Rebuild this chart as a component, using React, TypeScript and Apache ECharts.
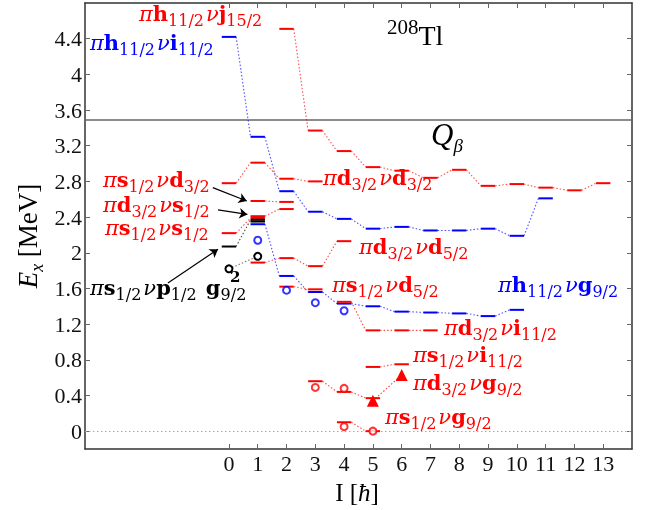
import React, { useEffect, useRef } from "react";
import * as echarts from "echarts";

const X_TICKS = [0, 1, 2, 3, 4, 5, 6, 7, 8, 9, 10, 11, 12, 13];
const Y_TICKS = [0, 0.4, 0.8, 1.2, 1.6, 2, 2.4, 2.8, 3.2, 3.6, 4, 4.4];
const Q_BETA = 3.49;

// calculated multiplets [I, E]
const hJ15 = [[2, 4.51], [3, 3.37], [4, 3.14], [5, 2.96], [6, 2.92], [7, 2.84], [8, 2.93], [9, 2.75], [10, 2.77], [11, 2.73], [12, 2.7], [13, 2.78]];
const hI11 = [[0, 4.42], [1, 3.3], [2, 2.69], [3, 2.46], [4, 2.38], [5, 2.27], [6, 2.29], [7, 2.25], [8, 2.25], [9, 2.27], [10, 2.19], [11, 2.61]];
const dD3 = [[0, 2.78], [1, 3.01], [2, 2.83], [3, 2.8]];
const sD3 = [[1, 2.58], [2, 2.57]];
const dS1 = [[1, 2.41], [2, 2.49]];
const sS1 = [[0, 2.22], [1, 2.39]];
const sP1 = [[0, 2.07], [1, 2.37]];
const sP1b = [[1, 2.35]];
const hG9 = [[1, 2.32], [2, 1.74], [3, 1.56], [4, 1.43], [5, 1.4], [6, 1.34], [7, 1.33], [8, 1.32], [9, 1.29], [10, 1.36]];
const dD5 = [[1, 1.89], [2, 1.94], [3, 1.85], [4, 2.13]];
const sD5 = [[2, 1.62], [3, 1.59]];
const dI11 = [[4, 1.45], [5, 1.13], [6, 1.13], [7, 1.13]];
const sI11 = [[5, 0.72], [6, 0.75]];
const dG9 = [[3, 0.56], [4, 0.44], [5, 0.37]];
const sG9 = [[4, 0.1], [5, 0.0]];

// experimental levels
const expRed = [[3, 0.49], [4, 0.48], [4, 0.05], [5, 0.0]];
const expBlue = [[1, 2.14], [2, 1.58], [3, 1.44], [4, 1.35]];
const expBlack = [[0, 1.82], [1, 1.96]];
const expTri = [[5, 0.34], [6, 0.63]];

// arrows [from, to]
const arrows = [
  [[-0.56, 2.73], [0.62, 2.58]],
  [[-0.38, 2.48], [0.64, 2.43]],
  [[-2.12, 1.66], [-0.38, 2.04]],
];

const RED = "#ff0000";
const BLUE = "#0000ff";
const BLACK = "#000000";
const HW = 0.25;
const LF = "'DejaVu Serif', 'Liberation Serif', serif";
const AF = "'Liberation Serif', 'DejaVu Serif', serif";

function band(data: number[][], color: string, barW = 2) {
  return {
    type: "custom",
    data,
    encode: { x: 0, y: 1 },
    z: 5,
    renderItem: (params: any, api: any) => {
      const i = params.dataIndex;
      const x = api.value(0);
      const y = api.value(1);
      const p1 = api.coord([x - HW, y]);
      const p2 = api.coord([x + HW, y]);
      const children: any[] = [];
      if (i < data.length - 1) {
        const n = data[i + 1];
        const q = api.coord([n[0] - HW, n[1]]);
        children.push({
          type: "line",
          shape: { x1: p2[0], y1: p2[1], x2: q[0], y2: q[1] },
          style: { stroke: color, lineWidth: 1.1, lineDash: [1.5, 2], opacity: 0.7 },
        });
      }
      children.push({
        type: "line",
        shape: { x1: p1[0], y1: p1[1], x2: p2[0], y2: p2[1] },
        style: { stroke: color, lineWidth: barW },
      });
      return { type: "group", children };
    },
  };
}

// rich text with real sub/superscripts (tokens top-aligned, shifted by padding)
function richFor(S: number, s: number, fam: string, bold: boolean, P: number, gap: number) {
  const base = P + S / 2 + 0.345 * S;
  const subPad = base + 0.22 * S - 0.345 * s - s / 2;
  const supPad = Math.max(0, base - 0.42 * S - 0.345 * s - s / 2);
  const w = bold ? "bold" : "normal";
  return {
    base,
    rich: {
      g: { fontFamily: fam, fontSize: S, fontStyle: "italic", verticalAlign: "top", padding: [P, 0, 0, 0] },
      m: { fontFamily: fam, fontSize: S, fontWeight: w, verticalAlign: "top", padding: [P, 0, 0, 0] },
      s: { fontFamily: fam, fontSize: s, verticalAlign: "top", padding: [subPad, gap, 0, 0] },
      gs: { fontFamily: fam, fontSize: s, fontStyle: "italic", verticalAlign: "top", padding: [subPad, 0, 0, 0] },
      u: { fontFamily: fam, fontSize: s, verticalAlign: "top", padding: [supPad, 0, 0, 0] },
    },
  };
}

function lbl(text: string, x: number, baseline: number, color: string, S = 21, s = 16, fam = LF, bold = true, P = 0, gap = 2) {
  const r = richFor(S, s, fam, bold, P, gap);
  return {
    type: "text",
    x,
    y: baseline - r.base,
    z: 100,
    style: {
      text,
      rich: r.rich,
      fill: color,
      align: "left",
      textAlign: "left",
      verticalAlign: "top",
      textVerticalAlign: "top",
      fontFamily: fam,
      fontSize: S,
    },
  };
}

function centered(text: string, x: number, y: number, S: number, s: number, rotation = 0) {
  const r = richFor(S, s, AF, false, 0, 0);
  return {
    type: "text",
    x,
    y,
    rotation,
    z: 100,
    style: {
      text,
      rich: r.rich,
      fill: BLACK,
      align: "center",
      textAlign: "center",
      verticalAlign: "middle",
      textVerticalAlign: "middle",
      fontFamily: AF,
      fontSize: S,
    },
  };
}

export default function App() {
  const ref = useRef<HTMLDivElement>(null);
  useEffect(() => {
    if (!ref.current) return;
    const chart = echarts.init(ref.current, null, { renderer: "svg" });
    const axisCommon = {
      type: "value",
      splitLine: { show: false },
      axisLine: { show: true, onZero: false, lineStyle: { color: "#333", width: 1.5 } },
    };
    const option: any = {
      animation: false,
      grid: { left: 85, right: 14, top: 3, bottom: 61, outerBoundsMode: "none" },
      xAxis: [
        {
          ...axisCommon,
          min: -5,
          max: 14,
          position: "bottom",
          axisTick: { show: true, inside: true, length: 5, customValues: X_TICKS, lineStyle: { color: "#666" } },
          axisLabel: { customValues: X_TICKS, fontFamily: AF, fontSize: 22, color: "#111", margin: 3 },
        },
        {
          ...axisCommon,
          min: -5,
          max: 14,
          position: "top",
          axisTick: { show: true, inside: true, length: 5, customValues: X_TICKS, lineStyle: { color: "#666" } },
          axisLabel: { show: false },
        },
      ],
      yAxis: [
        {
          ...axisCommon,
          min: -0.2,
          max: 4.8,
          position: "left",
          axisTick: { show: true, inside: true, length: 5, customValues: Y_TICKS, lineStyle: { color: "#666" } },
          axisLabel: {
            customValues: Y_TICKS,
            fontFamily: AF,
            fontSize: 22,
            color: "#111",
            margin: 3,
            formatter: (v: number) => String(v),
          },
        },
        {
          ...axisCommon,
          min: -0.2,
          max: 4.8,
          position: "right",
          axisTick: { show: true, inside: true, length: 5, customValues: Y_TICKS, lineStyle: { color: "#666" } },
          axisLabel: { show: false },
        },
      ],
      series: [
        band(hJ15, RED),
        band(hI11, BLUE),
        band(dD3, RED),
        band(sD3, RED),
        band(dS1, RED),
        band(sS1, RED),
        band(hG9, BLUE),
        band(sP1, BLACK),
        band(sP1b, BLACK),
        band(dD5, RED),
        band(sD5, RED),
        band(dI11, RED),
        band(sI11, RED),
        band(dG9, RED),
        band(sG9, RED),
        {
          type: "scatter",
          data: expRed,
          symbol: "emptyCircle",
          symbolSize: 7,
          itemStyle: { color: RED, borderColor: RED, borderWidth: 1.5 },
          z: 6,
          markLine: {
            silent: true,
            symbol: "none",
            label: { show: false },
            data: [
              { yAxis: Q_BETA, lineStyle: { color: "#666", type: "solid", width: 1.5 } },
              { yAxis: 0, lineStyle: { color: "#aaa", type: [1.5, 2.5], width: 1.2 } },
            ],
          },
        },
        {
          type: "scatter",
          data: expBlue,
          symbol: "emptyCircle",
          symbolSize: 7,
          itemStyle: { color: BLUE, borderColor: BLUE, borderWidth: 1.5 },
          z: 6,
        },
        {
          type: "line",
          data: expBlack,
          symbol: "emptyCircle",
          symbolSize: 7,
          itemStyle: { color: BLACK, borderColor: BLACK, borderWidth: 1.5 },
          lineStyle: { color: "#777", width: 1.1, type: [1.5, 2] },
          z: 6,
        },
        {
          type: "line",
          data: expTri,
          symbol: "triangle",
          symbolSize: 12,
          itemStyle: { color: RED },
          lineStyle: { color: RED, width: 1.1, type: [1.5, 2], opacity: 0.8 },
          z: 6,
        },
        {
          type: "lines",
          coordinateSystem: "cartesian2d",
          data: arrows.map((c) => ({ coords: c })),
          symbol: ["none", "arrow"],
          symbolSize: 8,
          lineStyle: { color: BLACK, width: 1.2, opacity: 1 },
          z: 7,
        },
      ],
      graphic: [
        lbl("{g|π}{m|h}{s|11/2}{g|ν}{m|j}{s|15/2}", 139, 21, RED),
        lbl("{g|π}{m|h}{s|11/2}{g|ν}{m|i}{s|11/2}", 90, 50, BLUE),
        lbl("{g|π}{m|s}{s|1/2}{g|ν}{m|d}{s|3/2}", 103, 187, RED),
        lbl("{g|π}{m|d}{s|3/2}{g|ν}{m|s}{s|1/2}", 103, 212, RED),
        lbl("{g|π}{m|s}{s|1/2}{g|ν}{m|s}{s|1/2}", 105, 235, RED),
        lbl("{g|π}{m|s}{s|1/2}{g|ν}{m|p}{s|1/2}{m| g}{s|9/2}", 90, 295, BLACK),
        {
          type: "text",
          x: 230,
          y: 277,
          z: 100,
          style: { text: "2", fill: BLACK, fontFamily: LF, fontWeight: "bold", fontSize: 15, align: "left", verticalAlign: "middle", textAlign: "left", textVerticalAlign: "middle" },
        },
        lbl("{g|π}{m|d}{s|3/2}{g|ν}{m|d}{s|3/2}", 323, 185, RED),
        lbl("{g|π}{m|d}{s|3/2}{g|ν}{m|d}{s|5/2}", 359, 254, RED),
        lbl("{g|π}{m|s}{s|1/2}{g|ν}{m|d}{s|5/2}", 332, 292, RED),
        lbl("{g|π}{m|h}{s|11/2}{g|ν}{m|g}{s|9/2}", 498, 292, BLUE),
        lbl("{g|π}{m|d}{s|3/2}{g|ν}{m|i}{s|11/2}", 444, 335, RED),
        lbl("{g|π}{m|s}{s|1/2}{g|ν}{m|i}{s|11/2}", 413, 362, RED),
        lbl("{g|π}{m|d}{s|3/2}{g|ν}{m|g}{s|9/2}", 413, 390, RED),
        lbl("{g|π}{m|s}{s|1/2}{g|ν}{m|g}{s|9/2}", 385, 424, RED),
        lbl("{u|208}{m|Tl}", 387, 45, BLACK, 28, 21, AF, false, 5, 0),
        lbl("{g|Q}{gs|β}", 431, 145, BLACK, 31, 19, AF, false, 0, 0),
        centered("{g|E}{gs|x}{m| [MeV]}", 30, 236, 27, 18, Math.PI / 2),
        centered("{m|I [}{g|ħ}{m|]}", 357, 492, 25, 16),
      ],
    };
    chart.setOption(option);
    return () => chart.dispose();
  }, []);
  return <div ref={ref} style={{ position: "fixed", left: 0, top: 0, width: 646, height: 510 }} />;
}
